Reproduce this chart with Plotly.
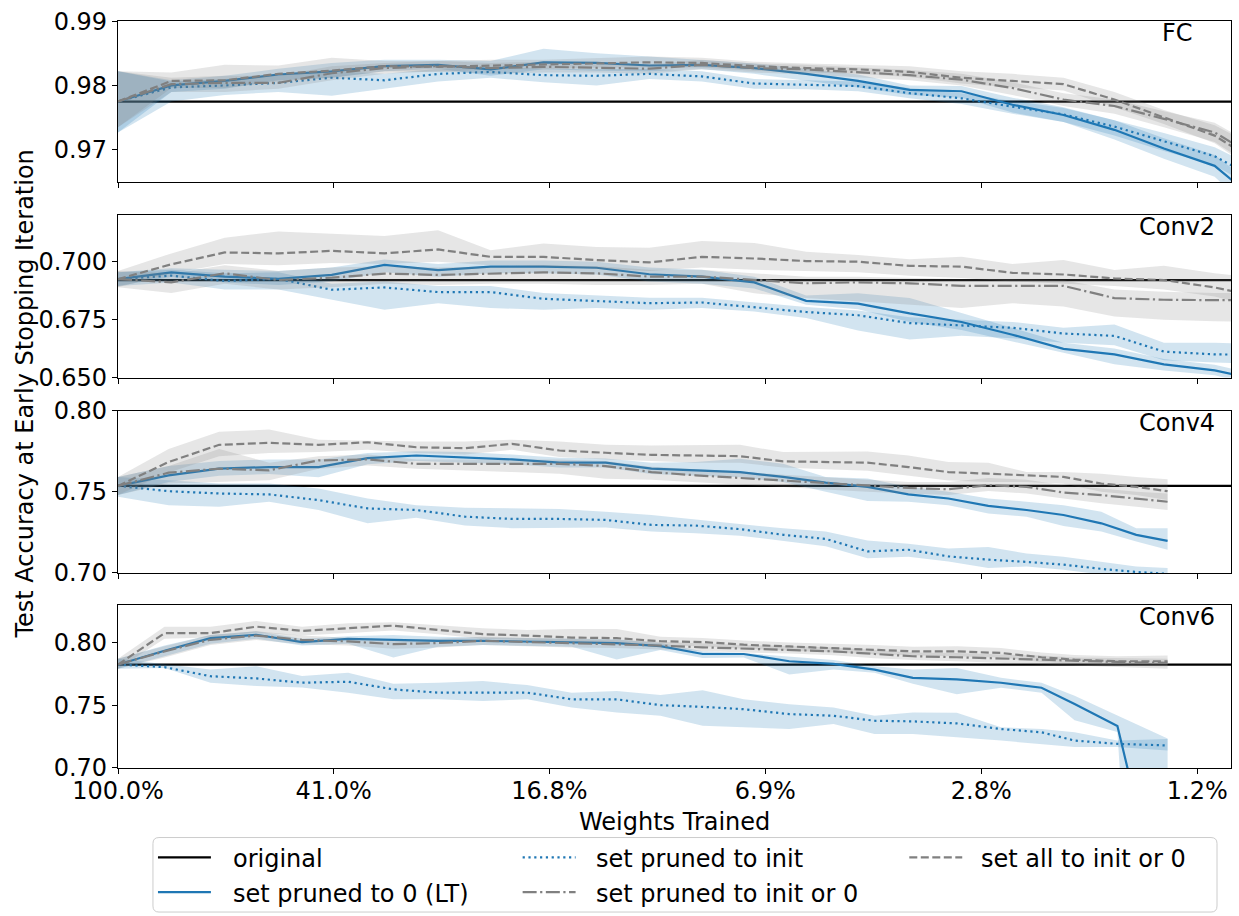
import plotly.graph_objects as go
from plotly.subplots import make_subplots

# ---------------- x axis: share of weights still trained ----------------
tick_pct = [100.0, 40.96, 16.78, 6.87, 2.81, 1.15]
tick_text = ["100.0%", "41.0%", "16.8%", "6.9%", "2.8%", "1.2%"]

pct_fc = [100, 80.2, 64.3, 51.5, 41.3, 33.2, 26.6, 21.4, 17.2, 13.8, 11.1, 8.93,
          7.19, 5.80, 4.68, 3.78, 3.05, 2.47, 2.00, 1.62, 1.32, 1.07, 0.88]
pct_conv2 = [100, 80.2, 64.3, 51.5, 41.3, 33.2, 26.6, 21.4, 17.2, 13.8, 11.1, 8.93,
             7.19, 5.80, 4.68, 3.78, 3.05, 2.47, 2.00, 1.62, 1.32, 1.07, 0.88]
pct_conv4 = [100, 81.1, 65.8, 53.5, 43.6, 35.6, 29.1, 23.8, 19.6, 16.1, 13.3, 11.0,
             9.16, 7.63, 6.38, 5.35, 4.50, 3.80, 3.22, 2.73, 2.33, 2.00, 1.71, 1.48, 1.30]
pct_conv6 = [100, 82.5, 68.2, 56.4, 46.7, 38.6, 32.0, 26.6, 22.1, 18.4, 15.3, 12.7,
             10.6, 8.90, 7.51, 6.22, 5.18, 4.37, 3.73, 3.11, 2.59, 2.19, 1.91, 1.60, 1.30]

# ---------------- accuracy of the unpruned network ----------------
orig_fc, orig_conv2, orig_conv4, orig_conv6 = 0.9775, 0.6921, 0.7537, 0.7824

# ---------------- FC ----------------
fc_lt = [0.9775, 0.9800, 0.9807, 0.9817, 0.9822, 0.9830, 0.9832, 0.9825, 0.9836, 0.9835, 0.9831, 0.9832,
         0.9827, 0.9818, 0.9807, 0.9793, 0.9791, 0.9770, 0.9754, 0.9731, 0.9702, 0.9675, 0.9614]
fc_lt_lo = [0.9727, 0.9790, 0.9795, 0.9808, 0.9812, 0.9822, 0.9826, 0.9815, 0.9825, 0.9823, 0.9822, 0.9825,
            0.9818, 0.9808, 0.9797, 0.9785, 0.9781, 0.9758, 0.9743, 0.9716, 0.9686, 0.9658, 0.9590]
fc_lt_hi = [0.9822, 0.9808, 0.9815, 0.9826, 0.9835, 0.9840, 0.9840, 0.9838, 0.9857, 0.9850, 0.9845, 0.9840,
            0.9834, 0.9826, 0.9817, 0.9800, 0.9799, 0.9781, 0.9766, 0.9746, 0.9718, 0.9692, 0.9635]
fc_init = [0.9775, 0.9797, 0.9800, 0.9804, 0.9812, 0.9808, 0.9818, 0.9821, 0.9816, 0.9815, 0.9818, 0.9814,
           0.9803, 0.9801, 0.9799, 0.9788, 0.9780, 0.9767, 0.9755, 0.9736, 0.9713, 0.9690, 0.9650]
fc_init_lo = [0.9727, 0.9775, 0.9785, 0.9790, 0.9784, 0.9795, 0.9806, 0.9812, 0.9805, 0.9800, 0.9810, 0.9806,
              0.9795, 0.9794, 0.9791, 0.9780, 0.9771, 0.9756, 0.9743, 0.9722, 0.9698, 0.9676, 0.9633]
fc_init_hi = [0.9822, 0.9806, 0.9810, 0.9815, 0.9822, 0.9818, 0.9826, 0.9829, 0.9826, 0.9825, 0.9826, 0.9822,
              0.9810, 0.9808, 0.9806, 0.9796, 0.9788, 0.9776, 0.9765, 0.9746, 0.9726, 0.9704, 0.9668]
fc_or0 = [0.9775, 0.9802, 0.9804, 0.9804, 0.9819, 0.9827, 0.9830, 0.9827, 0.9829, 0.9828, 0.9826, 0.9832,
          0.9827, 0.9825, 0.9821, 0.9816, 0.9809, 0.9796, 0.9778, 0.9768, 0.9748, 0.9727, 0.9683]
fc_or0_lo = [0.9735, 0.9790, 0.9790, 0.9795, 0.9808, 0.9818, 0.9822, 0.9818, 0.9820, 0.9820, 0.9818, 0.9825,
             0.9820, 0.9817, 0.9813, 0.9808, 0.9800, 0.9785, 0.9768, 0.9756, 0.9735, 0.9712, 0.9665]
fc_or0_hi = [0.9822, 0.9812, 0.9815, 0.9815, 0.9830, 0.9835, 0.9838, 0.9835, 0.9837, 0.9835, 0.9832, 0.9840,
             0.9834, 0.9832, 0.9828, 0.9824, 0.9818, 0.9805, 0.9788, 0.9778, 0.9760, 0.9742, 0.9700]
fc_all = [0.9775, 0.9807, 0.9808, 0.9818, 0.9823, 0.9830, 0.9829, 0.9831, 0.9832, 0.9835, 0.9836, 0.9835,
          0.9830, 0.9827, 0.9825, 0.9821, 0.9812, 0.9807, 0.9802, 0.9778, 0.9750, 0.9722, 0.9676]
fc_all_lo = [0.9735, 0.9796, 0.9796, 0.9806, 0.9812, 0.9822, 0.9821, 0.9825, 0.9825, 0.9828, 0.9828, 0.9828,
             0.9823, 0.9820, 0.9818, 0.9813, 0.9803, 0.9797, 0.9792, 0.9766, 0.9740, 0.9710, 0.9660]
fc_all_hi = [0.9822, 0.9820, 0.9832, 0.9831, 0.9843, 0.9838, 0.9838, 0.9840, 0.9840, 0.9843, 0.9845, 0.9843,
             0.9837, 0.9834, 0.9832, 0.9830, 0.9822, 0.9818, 0.9812, 0.9790, 0.9762, 0.9738, 0.9700]

# ---------------- Conv2 ----------------
c2_lt = [0.6925, 0.6954, 0.6936, 0.6926, 0.6943, 0.6986, 0.6964, 0.6979, 0.6979, 0.6974, 0.6946, 0.6936,
         0.6911, 0.6831, 0.6819, 0.6777, 0.6740, 0.6685, 0.6624, 0.6600, 0.6557, 0.6531, 0.6487]
c2_lt_lo = [0.6895, 0.6935, 0.6910, 0.6900, 0.6915, 0.6955, 0.6935, 0.6950, 0.6950, 0.6945, 0.6915, 0.6905,
            0.6885, 0.6814, 0.6795, 0.6740, 0.6705, 0.6655, 0.6607, 0.6557, 0.6530, 0.6510, 0.6460]
c2_lt_hi = [0.6955, 0.6972, 0.6965, 0.6960, 0.6975, 0.7010, 0.6990, 0.7005, 0.7005, 0.7000, 0.6975, 0.6965,
            0.6935, 0.6854, 0.6864, 0.6843, 0.6779, 0.6715, 0.6650, 0.6625, 0.6580, 0.6555, 0.6510]
c2_init = [0.6925, 0.6940, 0.6917, 0.6926, 0.6879, 0.6889, 0.6869, 0.6869, 0.6840, 0.6831, 0.6821, 0.6824,
           0.6803, 0.6783, 0.6769, 0.6735, 0.6725, 0.6715, 0.6690, 0.6680, 0.6612, 0.6600, 0.6598]
c2_init_lo = [0.6895, 0.6910, 0.6880, 0.6880, 0.6836, 0.6793, 0.6821, 0.6800, 0.6793, 0.6800, 0.6793, 0.6800,
              0.6785, 0.6757, 0.6703, 0.6664, 0.6680, 0.6670, 0.6650, 0.6640, 0.6575, 0.6565, 0.6560]
c2_init_hi = [0.6955, 0.6965, 0.6950, 0.6955, 0.6905, 0.6915, 0.6895, 0.6895, 0.6865, 0.6855, 0.6845, 0.6845,
              0.6825, 0.6805, 0.6790, 0.6760, 0.6750, 0.6740, 0.6715, 0.6729, 0.6650, 0.6650, 0.6645]
c2_or0 = [0.6925, 0.6911, 0.6950, 0.6921, 0.6931, 0.6949, 0.6943, 0.6950, 0.6954, 0.6950, 0.6936, 0.6936,
          0.6921, 0.6907, 0.6911, 0.6907, 0.6896, 0.6896, 0.6896, 0.6843, 0.6836, 0.6834, 0.6834]
c2_or0_lo = [0.6890, 0.6865, 0.6905, 0.6880, 0.6890, 0.6905, 0.6900, 0.6905, 0.6905, 0.6900, 0.6900, 0.6905,
             0.6864, 0.6843, 0.6829, 0.6814, 0.6800, 0.6821, 0.6807, 0.6764, 0.6750, 0.6743, 0.6740]
c2_or0_hi = [0.6960, 0.6950, 0.6985, 0.6960, 0.6975, 0.6980, 0.6975, 0.6980, 0.6985, 0.6980, 0.6965, 0.6965,
             0.6950, 0.6935, 0.6935, 0.6930, 0.6925, 0.6925, 0.6920, 0.6880, 0.6870, 0.6865, 0.6865]
c2_all = [0.6925, 0.6989, 0.7040, 0.7036, 0.7047, 0.7036, 0.7053, 0.7021, 0.7021, 0.7007, 0.6997, 0.7021,
          0.7014, 0.7003, 0.7000, 0.6982, 0.6979, 0.6952, 0.6945, 0.6928, 0.6921, 0.6889, 0.6845]
c2_all_lo = [0.6890, 0.6950, 0.6990, 0.6985, 0.6995, 0.6990, 0.7000, 0.6985, 0.6980, 0.6970, 0.6960, 0.6975,
             0.6965, 0.6960, 0.6955, 0.6940, 0.6930, 0.6915, 0.6905, 0.6895, 0.6880, 0.6850, 0.6800]
c2_all_hi = [0.6960, 0.7036, 0.7103, 0.7131, 0.7121, 0.7111, 0.7136, 0.7050, 0.7079, 0.7064, 0.7060, 0.7090,
             0.7081, 0.7043, 0.7029, 0.7011, 0.7021, 0.6990, 0.7007, 0.6964, 0.6983, 0.6950, 0.6930]

# ---------------- Conv4 ----------------
c4_lt = [0.7537, 0.7602, 0.7643, 0.7653, 0.7653, 0.7708, 0.7724, 0.7714, 0.7700, 0.7680, 0.7680, 0.7643,
         0.7633, 0.7622, 0.7592, 0.7557, 0.7531, 0.7484, 0.7459, 0.7414, 0.7388, 0.7357, 0.7306, 0.7235, 0.7198]
c4_lt_lo = [0.7480, 0.7560, 0.7600, 0.7610, 0.7590, 0.7670, 0.7690, 0.7680, 0.7670, 0.7650, 0.7650, 0.7610,
            0.7600, 0.7590, 0.7560, 0.7500, 0.7443, 0.7439, 0.7418, 0.7367, 0.7347, 0.7290, 0.7255, 0.7194, 0.7143]
c4_lt_hi = [0.7592, 0.7660, 0.7690, 0.7700, 0.7700, 0.7740, 0.7750, 0.7745, 0.7730, 0.7710, 0.7705, 0.7680,
            0.7684, 0.7704, 0.7673, 0.7592, 0.7582, 0.7531, 0.7500, 0.7459, 0.7439, 0.7418, 0.7378, 0.7276, 0.7276]
c4_init = [0.7537, 0.7504, 0.7490, 0.7484, 0.7449, 0.7398, 0.7388, 0.7347, 0.7333, 0.7333, 0.7327, 0.7296,
           0.7292, 0.7270, 0.7235, 0.7210, 0.7133, 0.7143, 0.7102, 0.7082, 0.7068, 0.7051, 0.7025, 0.7006, 0.6994]
c4_init_lo = [0.7470, 0.7418, 0.7408, 0.7439, 0.7388, 0.7306, 0.7341, 0.7292, 0.7276, 0.7280, 0.7280, 0.7255,
              0.7245, 0.7230, 0.7195, 0.7165, 0.7090, 0.7100, 0.7070, 0.7030, 0.7040, 0.7020, 0.6990, 0.6970, 0.6960]
c4_init_hi = [0.7592, 0.7571, 0.7551, 0.7551, 0.7520, 0.7459, 0.7418, 0.7402, 0.7398, 0.7394, 0.7378, 0.7357,
              0.7330, 0.7300, 0.7275, 0.7255, 0.7200, 0.7180, 0.7150, 0.7160, 0.7120, 0.7100, 0.7070, 0.7040, 0.7030]
c4_or0 = [0.7537, 0.7618, 0.7643, 0.7633, 0.7694, 0.7700, 0.7673, 0.7673, 0.7673, 0.7673, 0.7659, 0.7622,
          0.7602, 0.7586, 0.7571, 0.7555, 0.7541, 0.7524, 0.7516, 0.7541, 0.7531, 0.7496, 0.7480, 0.7459, 0.7439]
c4_or0_lo = [0.7480, 0.7551, 0.7561, 0.7571, 0.7643, 0.7663, 0.7643, 0.7633, 0.7622, 0.7612, 0.7580, 0.7575,
             0.7560, 0.7545, 0.7530, 0.7515, 0.7500, 0.7490, 0.7480, 0.7505, 0.7490, 0.7459, 0.7429, 0.7408, 0.7388]
c4_or0_hi = [0.7592, 0.7660, 0.7765, 0.7680, 0.7720, 0.7730, 0.7700, 0.7700, 0.7700, 0.7700, 0.7690, 0.7655,
             0.7640, 0.7625, 0.7605, 0.7590, 0.7575, 0.7560, 0.7560, 0.7585, 0.7575, 0.7540, 0.7520, 0.7500, 0.7490]
c4_all = [0.7537, 0.7684, 0.7790, 0.7802, 0.7790, 0.7806, 0.7775, 0.7769, 0.7796, 0.7755, 0.7741, 0.7728,
          0.7724, 0.7720, 0.7688, 0.7684, 0.7680, 0.7653, 0.7622, 0.7612, 0.7602, 0.7592, 0.7551, 0.7531, 0.7504]
c4_all_lo = [0.7480, 0.7620, 0.7720, 0.7740, 0.7745, 0.7760, 0.7740, 0.7730, 0.7760, 0.7715, 0.7700, 0.7690,
             0.7680, 0.7680, 0.7650, 0.7640, 0.7630, 0.7600, 0.7570, 0.7560, 0.7560, 0.7550, 0.7500, 0.7480, 0.7450]
c4_all_hi = [0.7592, 0.7765, 0.7871, 0.7884, 0.7822, 0.7816, 0.7810, 0.7810, 0.7822, 0.7810, 0.7790, 0.7786,
             0.7786, 0.7790, 0.7745, 0.7749, 0.7749, 0.7724, 0.7684, 0.7680, 0.7622, 0.7622, 0.7612, 0.7592, 0.7578]

# ---------------- Conv6 ----------------
c6_lt = [0.7824, 0.7934, 0.8034, 0.8061, 0.8003, 0.8029, 0.8021, 0.8013, 0.8013, 0.8008, 0.8000, 0.7995,
         0.7970, 0.7908, 0.7908, 0.7850, 0.7829, 0.7784, 0.7718, 0.7705, 0.7679, 0.7639, 0.7510, 0.7334, 0.5670]
c6_lt_lo = [0.7790, 0.7890, 0.7990, 0.8030, 0.7975, 0.7990, 0.7880, 0.7965, 0.7980, 0.7975, 0.7965, 0.7865,
            0.7940, 0.7876, 0.7880, 0.7745, 0.7784, 0.7758, 0.7671, 0.7587, 0.7639, 0.7600, 0.7379, 0.7286, 0.1000]
c6_lt_hi = [0.7870, 0.7975, 0.8060, 0.8090, 0.8030, 0.8050, 0.8060, 0.8045, 0.8040, 0.8035, 0.8030, 0.8025,
            0.7995, 0.7929, 0.7916, 0.7890, 0.7860, 0.7811, 0.7784, 0.7797, 0.7718, 0.7679, 0.7576, 0.7418, 0.7234]
c6_init = [0.7824, 0.7803, 0.7731, 0.7713, 0.7679, 0.7687, 0.7626, 0.7600, 0.7600, 0.7600, 0.7547, 0.7547,
           0.7500, 0.7487, 0.7468, 0.7429, 0.7416, 0.7376, 0.7371, 0.7355, 0.7310, 0.7284, 0.7218, 0.7192, 0.7179]
c6_init_lo = [0.7790, 0.7797, 0.7679, 0.7653, 0.7640, 0.7600, 0.7547, 0.7547, 0.7534, 0.7547, 0.7481, 0.7442,
              0.7416, 0.7337, 0.7324, 0.7310, 0.7350, 0.7270, 0.7270, 0.7245, 0.7218, 0.7192, 0.7166, 0.7166, 0.7139]
c6_init_hi = [0.7870, 0.7824, 0.7784, 0.7811, 0.7732, 0.7758, 0.7671, 0.7679, 0.7692, 0.7660, 0.7600, 0.7613,
              0.7582, 0.7619, 0.7548, 0.7508, 0.7482, 0.7416, 0.7442, 0.7440, 0.7324, 0.7310, 0.7284, 0.7218, 0.7231]
c6_or0 = [0.7824, 0.7929, 0.8021, 0.8055, 0.8021, 0.8008, 0.7987, 0.7995, 0.8013, 0.8003, 0.7995, 0.7987,
          0.7975, 0.7961, 0.7950, 0.7942, 0.7929, 0.7908, 0.7890, 0.7882, 0.7871, 0.7863, 0.7850, 0.7845, 0.7837]
c6_or0_lo = [0.7790, 0.7880, 0.7980, 0.8020, 0.7985, 0.7975, 0.7950, 0.7960, 0.7980, 0.7970, 0.7960, 0.7955,
             0.7945, 0.7930, 0.7920, 0.7912, 0.7898, 0.7875, 0.7860, 0.7850, 0.7838, 0.7830, 0.7815, 0.7805, 0.7790]
c6_or0_hi = [0.7870, 0.7970, 0.8060, 0.8090, 0.8055, 0.8040, 0.8020, 0.8030, 0.8045, 0.8035, 0.8030, 0.8020,
             0.8005, 0.7990, 0.7980, 0.7972, 0.7960, 0.7940, 0.7920, 0.7915, 0.7905, 0.7895, 0.7880, 0.7875, 0.7870]
c6_all = [0.7824, 0.8074, 0.8074, 0.8126, 0.8092, 0.8113, 0.8134, 0.8100, 0.8066, 0.8055, 0.8039, 0.8034,
          0.8010, 0.8003, 0.7982, 0.7968, 0.7955, 0.7942, 0.7929, 0.7929, 0.7916, 0.7882, 0.7863, 0.7850, 0.7850]
c6_all_lo = [0.7790, 0.8030, 0.8040, 0.8080, 0.8055, 0.8075, 0.8095, 0.8065, 0.8030, 0.8020, 0.8005, 0.8000,
             0.7975, 0.7970, 0.7950, 0.7935, 0.7920, 0.7905, 0.7895, 0.7890, 0.7880, 0.7845, 0.7830, 0.7815, 0.7810]
c6_all_hi = [0.7870, 0.8126, 0.8126, 0.8171, 0.8126, 0.8153, 0.8161, 0.8140, 0.8113, 0.8100, 0.8108, 0.8108,
             0.8045, 0.8035, 0.8015, 0.8000, 0.7990, 0.7980, 0.7965, 0.7970, 0.7955, 0.7920, 0.7900, 0.7890, 0.7895]

# ---------------- styling ----------------
FONT = "DejaVu Sans"
FS = 24
BLUE = "#1f77b4"
GRAY = "#808080"
BLUE_BAND = "rgba(31,119,180,0.2)"
GRAY_BAND = "rgba(128,128,128,0.2)"
LW = 2.2
DOT = "2.2px,3.6px"
DASH = "8px,3.5px"
DASHDOT = "14px,3.5px,2.2px,3.5px"

SERIES = [
    ("lt", "set pruned to 0 (LT)", BLUE, "solid", BLUE_BAND),
    ("init", "set pruned to init", BLUE, DOT, BLUE_BAND),
    ("or0", "set pruned to init or 0", GRAY, DASHDOT, GRAY_BAND),
    ("all", "set all to init or 0", GRAY, DASH, GRAY_BAND),
]

panels = [
    dict(name="FC", x=pct_fc, orig=orig_fc,
         data=dict(lt=(fc_lt, fc_lt_lo, fc_lt_hi), init=(fc_init, fc_init_lo, fc_init_hi),
                   or0=(fc_or0, fc_or0_lo, fc_or0_hi), all=(fc_all, fc_all_lo, fc_all_hi)),
         yrange=[0.965, 0.99002], ticks=[0.97, 0.98, 0.99], fmt=".2f"),
    dict(name="Conv2", x=pct_conv2, orig=orig_conv2,
         data=dict(lt=(c2_lt, c2_lt_lo, c2_lt_hi), init=(c2_init, c2_init_lo, c2_init_hi),
                   or0=(c2_or0, c2_or0_lo, c2_or0_hi), all=(c2_all, c2_all_lo, c2_all_hi)),
         yrange=[0.64998, 0.72], ticks=[0.65, 0.675, 0.70], fmt=".3f"),
    dict(name="Conv4", x=pct_conv4, orig=orig_conv4,
         data=dict(lt=(c4_lt, c4_lt_lo, c4_lt_hi), init=(c4_init, c4_init_lo, c4_init_hi),
                   or0=(c4_or0, c4_or0_lo, c4_or0_hi), all=(c4_all, c4_all_lo, c4_all_hi)),
         yrange=[0.69995, 0.80005], ticks=[0.70, 0.75, 0.80], fmt=".2f"),
    dict(name="Conv6", x=pct_conv6, orig=orig_conv6,
         data=dict(lt=(c6_lt, c6_lt_lo, c6_lt_hi), init=(c6_init, c6_init_lo, c6_init_hi),
                   or0=(c6_or0, c6_or0_lo, c6_or0_hi), all=(c6_all, c6_all_lo, c6_all_hi)),
         yrange=[0.69995, 0.83], ticks=[0.70, 0.75, 0.80], fmt=".2f"),
]

# ---------------- page geometry (pixels) ----------------
W, H = 1239, 916
ML, MR, MT, MB = 118, 7, 16, 148
PW, PH = W - ML - MR, H - MT - MB


def px_x(px):
    return (px - ML) / PW


def px_y(py):
    return (H - MB - py) / PH


domains = [[px_y(178), 1.0], [px_y(375), px_y(211.7)],
           [px_y(571.7), px_y(408.3)], [0.0, px_y(603.7)]]

fig = make_subplots(rows=4, cols=1, shared_xaxes=True, vertical_spacing=0.02)

for row, p in enumerate(panels, start=1):
    xref = "x" if row == 1 else f"x{row}"
    yref = "y" if row == 1 else f"y{row}"
    # unpruned baseline
    fig.add_shape(type="line", xref=f"{xref} domain", yref=yref, x0=0, x1=1,
                  y0=p["orig"], y1=p["orig"], line=dict(color="black", width=2.2), layer="below")
    for key, label, color, dash, band in SERIES:
        mean, lo, hi = p["data"][key]
        xs = p["x"]
        fig.add_trace(go.Scatter(x=xs + xs[::-1], y=hi + lo[::-1], fill="toself",
                                 fillcolor=band, line=dict(width=0), mode="lines",
                                 hoverinfo="skip", showlegend=False), row=row, col=1)
        fig.add_trace(go.Scatter(x=xs, y=mean, mode="lines", name=label,
                                 line=dict(color=color, width=LW, dash=dash),
                                 showlegend=False), row=row, col=1)

    fig.update_yaxes(row=row, col=1, range=p["yrange"], tickvals=p["ticks"], tickformat=p["fmt"],
                     domain=domains[row - 1], showgrid=False, zeroline=False,
                     showline=True, mirror=True, linecolor="black", linewidth=1.2,
                     ticks="outside", ticklen=5, tickwidth=1.2, tickcolor="black",
                     tickfont=dict(family=FONT, size=FS, color="black"))
    fig.update_xaxes(row=row, col=1, type="log", range=[2, 0], tickvals=tick_pct, ticktext=tick_text,
                     showticklabels=(row == 4), showgrid=False, zeroline=False,
                     showline=True, mirror=True, linecolor="black", linewidth=1.2,
                     ticks="outside", ticklen=5, tickwidth=1.2, tickcolor="black",
                     ticklabelstandoff=-4,
                     tickfont=dict(family=FONT, size=FS, color="black"))
    # panel name
    fig.add_annotation(text=p["name"], xref="paper", yref="paper", x=px_x(1178),
                       y=domains[row - 1][1] - 12 / PH, xanchor="center", yanchor="middle",
                       showarrow=False, font=dict(family=FONT, size=FS, color="black"))

# axis titles
fig.add_annotation(text="Weights Trained", xref="paper", yref="paper", x=0.5, y=px_y(822),
                   xanchor="center", yanchor="middle", showarrow=False,
                   font=dict(family=FONT, size=FS, color="black"))
fig.add_annotation(text="Test Accuracy at Early Stopping Iteration", xref="paper", yref="paper",
                   x=px_x(24), y=0.5, textangle=-90, xanchor="center", yanchor="middle",
                   showarrow=False, font=dict(family=FONT, size=FS, color="black"))

# legend frame (rounded box)
bx0, bx1, by0, by1 = px_x(153), px_x(1218), px_y(913), px_y(838)
rx, ry = 6 / PW, 6 / PH
frame = (f"M {bx0 + rx},{by0} L {bx1 - rx},{by0} Q {bx1},{by0} {bx1},{by0 + ry} "
         f"L {bx1},{by1 - ry} Q {bx1},{by1} {bx1 - rx},{by1} L {bx0 + rx},{by1} "
         f"Q {bx0},{by1} {bx0},{by1 - ry} L {bx0},{by0 + ry} Q {bx0},{by0} {bx0 + rx},{by0} Z")
fig.add_shape(type="path", path=frame, xref="paper", yref="paper",
              line=dict(color="#cccccc", width=1), fillcolor="rgba(255,255,255,0.8)")

legend_items = [
    ("original", "black", "solid", 158, 231, 858),
    ("set pruned to 0 (LT)", BLUE, "solid", 158, 231, 893),
    ("set pruned to init", BLUE, DOT, 523, 594, 858),
    ("set pruned to init or 0", GRAY, DASHDOT, 523, 594, 893),
    ("set all to init or 0", GRAY, DASH, 910, 980, 858),
]
for label, color, dash, hx, tx, ty in legend_items:
    fig.add_shape(type="line", xref="paper", yref="paper", x0=px_x(hx), x1=px_x(hx + 53),
                  y0=px_y(ty), y1=px_y(ty), line=dict(color=color, width=LW, dash=dash))
    fig.add_annotation(text=label, xref="paper", yref="paper", x=px_x(tx), y=px_y(ty + 2),
                       xanchor="left", yanchor="middle", showarrow=False,
                       font=dict(family=FONT, size=FS, color="black"))

fig.update_layout(width=W, height=H, margin=dict(l=ML, r=MR, t=MT, b=MB),
                  plot_bgcolor="white", paper_bgcolor="white",
                  font=dict(family=FONT, size=FS, color="black"), showlegend=False)

fig.write_html("out.html")
